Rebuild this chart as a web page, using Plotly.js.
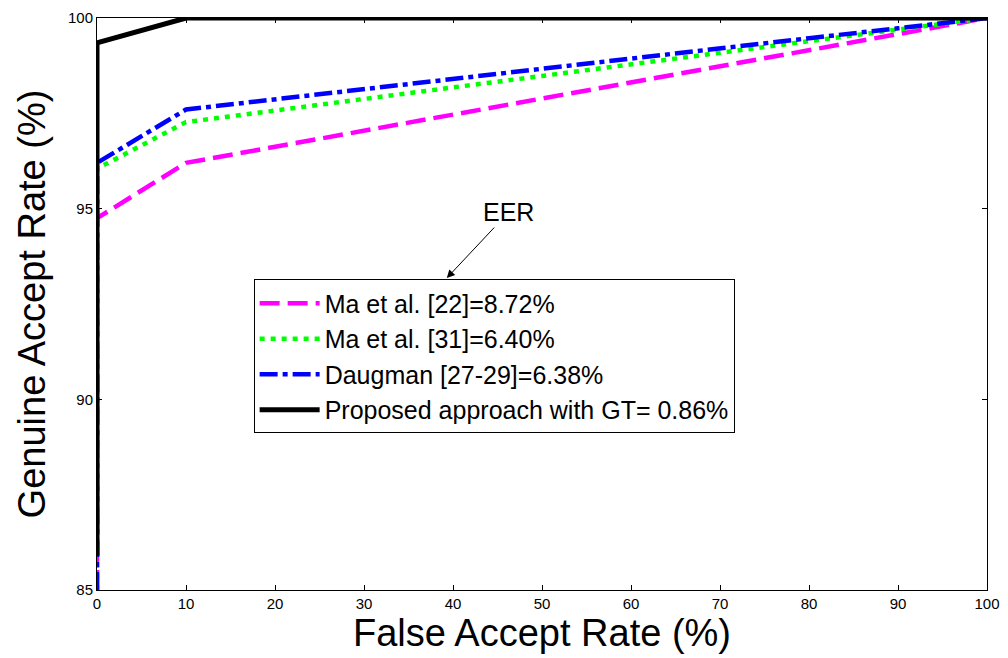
<!DOCTYPE html>
<html>
<head>
<meta charset="utf-8">
<script src="https://cdn.plot.ly/plotly-3.0.1.min.js"></script>
<style>
  html, body { margin: 0; padding: 0; background: #fff; }
  #chart { width: 1008px; height: 658px; }
</style>
</head>
<body>
<div id="chart"></div>
<script>
// False accept rate (%) sampled along each ROC curve
const farValues = [0, 0, 10, 20, 30, 40, 50, 60, 70, 80, 90, 100];

// Genuine accept rate (%) for each method; the first point is the foot of the vertical segment at FAR = 0
const garMa22     = [85.0, 94.75, 96.20, 96.62, 97.04, 97.45, 97.87, 98.30, 98.72, 99.15, 99.58, 100];
const garMa31     = [85.0, 96.05, 97.27, 97.58, 97.88, 98.18, 98.48, 98.78, 99.08, 99.39, 99.69, 100];
const garDaugman  = [85.0, 96.20, 97.60, 97.87, 98.13, 98.40, 98.67, 98.93, 99.20, 99.47, 99.73, 100];
const garProposed = [85.9, 99.35, 100, 100, 100, 100, 100, 100, 100, 100, 100, 100];

const seriesNames = [
  'Ma et al. [22]=8.72%',
  'Ma et al. [31]=6.40%',
  'Daugman [27-29]=6.38%',
  'Proposed approach with GT= 0.86%'
];

const xTicks = [0, 10, 20, 30, 40, 50, 60, 70, 80, 90, 100];
const yTicks = [85, 90, 95, 100];

const font = 'Liberation Sans, Arial, Helvetica, sans-serif';

function curve(y, name, color, dash, width) {
  return {
    x: farValues, y: y, name: name, type: 'scatter', mode: 'lines',
    line: { color: color, dash: dash, width: width }
  };
}

const traces = [
  curve(garMa22, seriesNames[0], '#ff00ff', '20px,8px', 4.5),
  curve(garMa31, seriesNames[1], '#00ff00', '5px,6px', 4.5),
  curve(garDaugman, seriesNames[2], '#0000ff', '18px,5px,5px,5px', 4.5),
  curve(garProposed, seriesNames[3], '#000000', 'solid', 5)
];

const axisCommon = {
  showgrid: false, zeroline: false,
  showline: true, linecolor: '#000', linewidth: 1, mirror: 'ticks',
  ticks: 'inside', ticklen: 5, tickcolor: '#000', tickwidth: 1,
  tickfont: { family: font, size: 15, color: '#000' }
};

const layout = {
  width: 1008, height: 658,
  margin: { l: 97, r: 21, t: 18, b: 68 },
  paper_bgcolor: '#fff', plot_bgcolor: '#fff',
  showlegend: true,
  legend: {
    x: 0.176, y: 0.543, xanchor: 'left', yanchor: 'top',
    bgcolor: '#fff', bordercolor: '#000', borderwidth: 1,
    font: { family: font, size: 25, color: '#000' },
    tracegroupgap: 0, itemwidth: 60
  },
  xaxis: Object.assign({}, axisCommon, {
    range: [0, 100], tickvals: xTicks, ticktext: xTicks.map(String),
    title: { text: 'False Accept Rate (%)', font: { family: font, size: 38, color: '#000' }, standoff: 2 }
  }),
  yaxis: Object.assign({}, axisCommon, {
    range: [85, 100], tickvals: yTicks, ticktext: yTicks.map(String),
    title: { text: 'Genuine Accept Rate (%)', font: { family: font, size: 38, color: '#000' }, standoff: 10 }
  }),
  annotations: [{
    x: 39.3, y: 93.18, xref: 'x', yref: 'y',
    text: 'EER', showarrow: true,
    ax: 62, ay: -66,
    arrowhead: 2, arrowsize: 1.6, arrowwidth: 1, arrowcolor: '#000',
    font: { family: font, size: 25, color: '#000' }
  }]
};

Plotly.newPlot('chart', traces, layout, { displayModeBar: false, staticPlot: true });
</script>
</body>
</html>
